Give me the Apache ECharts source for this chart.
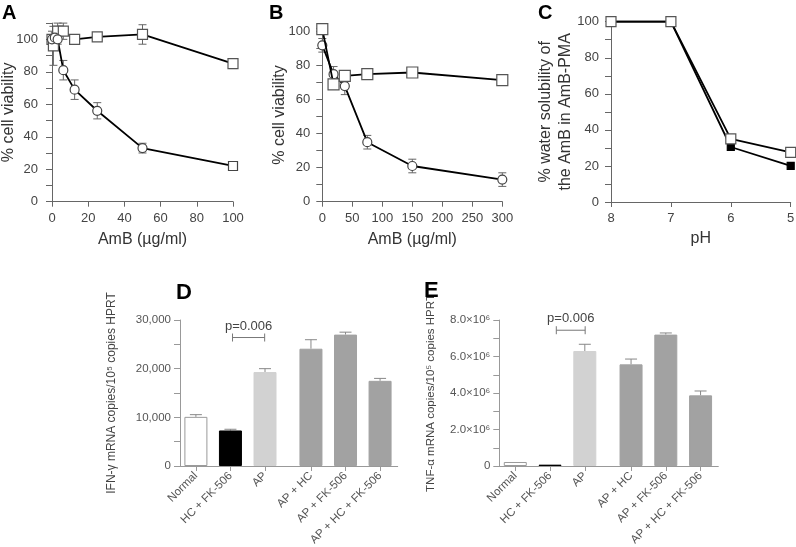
<!DOCTYPE html>
<html><head><meta charset="utf-8">
<script src="https://cdn.jsdelivr.net/npm/echarts@6/dist/echarts.min.js"></script>
<style>html,body{margin:0;padding:0;background:#fff}#c{width:796px;height:547px}</style>
</head><body><div id="c"></div>
<script>
// ---- Panel A ----
const aDoseSq = [0, 0.78, 3.125, 6.25, 12.5, 25, 50, 100];
const aViabSq = [100, 96, 105, 105, 100, 101.5, 103, 85];
const aErrSq  = [2, 12, 5, 5, 1.5, 1, 6, 3];
const aDoseCi = [0, 1.56, 3.125, 6.25, 12.5, 25, 50, 100];
const aViabCi = [100, 101, 100, 81, 69, 56, 33, 22];
const aErrCi  = [5, 3, 3, 6, 6, 5, 3, 1];
// ---- Panel B ----
const bDose   = [0, 18.75, 37.5, 75, 150, 300];
const bViabSq = [101.5, 69, 74, 75, 76, 71.5];
const bErrSq  = [1, 2, 2, 1, 1, 2];
const bViabCi = [92, 75, 68, 35, 21, 13];
const bErrCi  = [4, 4.5, 5, 4, 4, 4];
// ---- Panel C ----
const cPH     = [8, 7, 6, 5];
const cOpen   = [100, 100, 35, 27.5];
const cFilled = [100, 100, 30.5, 20];
// ---- Panels D / E ----
const groups  = ['Normal', 'HC + FK-506', 'AP', 'AP + HC', 'AP + FK-506', 'AP + HC + FK-506'];
const dIFN    = [10100, 7300, 19300, 24100, 27000, 17500];
const dIFNErr = [450, 250, 700, 1850, 500, 500];
const eTNF    = [220000, 73000, 6300000, 5570000, 7200000, 3870000];
const eTNFErr = [0, 0, 370000, 290000, 90000, 240000];
const dBracket = [1.52, 2.45, 26400];
const eBracket = [1.64, 2.47, 7440000];
const pText = 'p=0.006';

const FONT = 'Liberation Sans';
const barColors = ['#ffffff', '#000000', '#d2d2d2', '#a2a2a2', '#a2a2a2', '#a2a2a2'];
const barBorders = ['#9a9a9a', '#000000', '#d2d2d2', '#a2a2a2', '#a2a2a2', '#a2a2a2'];
const groupPos = groups.map((g, i) => i + 0.46 + (i >= 3 ? 0.33 : 0));

function axisBase(color) {
  return {
    axisLine: {show: true, onZero: false, lineStyle: {color: color, width: 1}},
    axisTick: {show: true, length: 6, lineStyle: {color: color, width: 1}},
    splitLine: {show: false},
    nameMoveOverlap: false,
    nameTextStyle: {color: '#333', fontFamily: FONT},
  };
}

function errSeries(xi, xs, ys, es, cap, color, upOnly, z) {
  return {
    type: 'custom', xAxisIndex: xi, yAxisIndex: xi, silent: true, clip: false, z: z || 1,
    data: xs.map((x, i) => [x, ys[i], es[i]]),
    renderItem: function (params, api) {
      const x = api.value(0), y = api.value(1), e = api.value(2);
      if (!e) return null;
      const top = api.coord([x, y + e]);
      const bot = api.coord([x, upOnly ? y : y - e]);
      const st = {stroke: color, lineWidth: 1};
      const ch = [
        {type: 'line', shape: {x1: top[0], y1: top[1], x2: bot[0], y2: bot[1]}, style: st},
        {type: 'line', shape: {x1: top[0] - cap, y1: top[1], x2: top[0] + cap, y2: top[1]}, style: st}
      ];
      if (!upOnly) ch.push({type: 'line', shape: {x1: bot[0] - cap, y1: bot[1], x2: bot[0] + cap, y2: bot[1]}, style: st});
      return {type: 'group', children: ch};
    }
  };
}

function bracketSeries(xi, br) {
  return {
    type: 'custom', xAxisIndex: xi, yAxisIndex: xi, silent: true, clip: false, z: 5,
    data: [br],
    renderItem: function (params, api) {
      const p1 = api.coord([api.value(0), api.value(2)]);
      const p2 = api.coord([api.value(1), api.value(2)]);
      const st = {stroke: '#777', lineWidth: 1};
      return {type: 'group', children: [
        {type: 'line', shape: {x1: p1[0], y1: p1[1], x2: p2[0], y2: p2[1]}, style: st},
        {type: 'line', shape: {x1: p1[0], y1: p1[1] - 4, x2: p1[0], y2: p1[1] + 4}, style: st},
        {type: 'line', shape: {x1: p2[0], y1: p2[1] - 4, x2: p2[0], y2: p2[1] + 4}, style: st},
        {type: 'text', style: {text: pText, x: (p1[0] + p2[0]) / 2, y: p1[1] - 5, align: 'center', verticalAlign: 'bottom',
          fill: '#444', fontSize: 13, fontFamily: FONT}}
      ]};
    }
  };
}

function lineSeries(xi, xs, ys, symbol, size, fill, border, z) {
  return {
    type: 'line', xAxisIndex: xi, yAxisIndex: xi, clip: false, z: z || 3,
    data: xs.map((x, i) => [x, ys[i]]),
    symbol: symbol, symbolSize: size, showAllSymbol: true,
    lineStyle: {color: '#000', width: 1.8},
    itemStyle: {color: fill, borderColor: border, borderWidth: 1.2, opacity: 1},
    emphasis: {disabled: true}
  };
}

function barSeries(xi, vals) {
  return {
    type: 'bar', xAxisIndex: xi, yAxisIndex: xi, barWidth: 23, z: 2,
    data: vals.map((v, i) => ({value: [groupPos[i], v], itemStyle: {color: barColors[i], borderColor: barBorders[i], borderWidth: 1}}))
  };
}

const yLabelStep = (step) => (v) => (Math.abs(v % step) < 1e-9 ? String(v) : '');
const groupLabel = (v) => { let k = 0; groupPos.forEach((p, i) => { if (Math.abs(p - v) < Math.abs(groupPos[k] - v)) k = i; }); return groups[k]; };

const gridBase = {containLabel: false, outerBoundsMode: 'none'};
const grids = [
  Object.assign({left: 52, top: 23.1, width: 181, height: 178.6}, gridBase),
  Object.assign({left: 322.3, top: 28.3, width: 180, height: 173.4}, gridBase),
  Object.assign({left: 611, top: 21.7, width: 179.7, height: 180.3}, gridBase),
  Object.assign({left: 180, top: 320, width: 217.7, height: 146}, gridBase),
  Object.assign({left: 499.3, top: 320, width: 219, height: 146}, gridBase)
];

const lblA = {color: '#444', fontSize: 13, fontFamily: FONT};
const lblD = {color: '#555', fontSize: 11.5, fontFamily: FONT};
const lblX = {color: '#555', fontSize: 11.5, fontFamily: FONT};
const nameA = {fontSize: 16, color: '#333', fontFamily: FONT};

const xAxes = [
  Object.assign(axisBase('#666'), {gridIndex: 0, type: 'value', min: 0, max: 100, interval: 20,
    axisLabel: Object.assign({margin: 10}, lblA), axisTick: {length: 5, lineStyle: {color: '#666'}},
    name: 'AmB (µg/ml)', nameLocation: 'middle', nameGap: 30, nameTextStyle: nameA}),
  Object.assign(axisBase('#666'), {gridIndex: 1, type: 'value', min: 0, max: 300, interval: 50,
    axisLabel: Object.assign({margin: 10}, lblA), axisTick: {length: 5, lineStyle: {color: '#666'}},
    name: 'AmB (µg/ml)', nameLocation: 'middle', nameGap: 30, nameTextStyle: nameA}),
  Object.assign(axisBase('#666'), {gridIndex: 2, type: 'value', min: 5, max: 8, interval: 1, inverse: true,
    axisLabel: Object.assign({margin: 10}, lblA), axisTick: {length: 5, lineStyle: {color: '#666'}},
    name: 'pH', nameLocation: 'middle', nameGap: 29, nameTextStyle: nameA}),
  Object.assign(axisBase('#999'), {gridIndex: 3, type: 'value', min: 0, max: 6.3,
    axisTick: {show: true, length: 5, customValues: groupPos, lineStyle: {color: '#999'}},
    axisLabel: Object.assign({rotate: 45, margin: 8, customValues: groupPos, formatter: groupLabel}, lblX)}),
  Object.assign(axisBase('#999'), {gridIndex: 4, type: 'value', min: 0, max: 6.3,
    axisTick: {show: true, length: 5, customValues: groupPos, lineStyle: {color: '#999'}},
    axisLabel: Object.assign({rotate: 45, margin: 8, customValues: groupPos, formatter: groupLabel}, lblX)})
];

const yAxes = [
  Object.assign(axisBase('#666'), {gridIndex: 0, type: 'value', min: 0, max: 110, interval: 10,
    axisTick: {length: 6, lineStyle: {color: '#666'}},
    axisLabel: Object.assign({margin: 14, formatter: yLabelStep(20)}, lblA),
    name: '% cell viability', nameLocation: 'middle', nameGap: 35, nameTextStyle: nameA}),
  Object.assign(axisBase('#666'), {gridIndex: 1, type: 'value', min: 0, max: 102, interval: 10,
    axisLabel: Object.assign({margin: 12, formatter: yLabelStep(20)}, lblA),
    name: '% cell viability', nameLocation: 'middle', nameGap: 35, nameTextStyle: nameA}),
  Object.assign(axisBase('#666'), {gridIndex: 2, type: 'value', min: 0, max: 100, interval: 10,
    axisLabel: Object.assign({margin: 12, formatter: yLabelStep(20)}, lblA),
    name: '% water solubility of\nthe AmB in AmB-PMA', nameLocation: 'middle', nameGap: 35,
    nameTextStyle: Object.assign({lineHeight: 20}, nameA)}),
  Object.assign(axisBase('#999'), {gridIndex: 3, type: 'value', min: 0, max: 30000, interval: 5000,
    axisLabel: Object.assign({margin: 9, formatter: (v) => (v % 10000 === 0 ? v.toLocaleString('en-US') : '')}, lblD),
    name: 'IFN-γ mRNA copies/10⁵ copies HPRT', nameLocation: 'middle', nameGap: 62,
    nameTextStyle: {fontSize: 12, color: '#444', fontFamily: FONT}}),
  Object.assign(axisBase('#999'), {gridIndex: 4, type: 'value', min: 0, max: 8000000, interval: 1000000,
    axisLabel: Object.assign({margin: 9, formatter: (v) => (v === 0 ? '0' : (v % 2000000 === 0 ? (v / 1e6).toFixed(1) + '×10⁶' : ''))}, lblD),
    name: 'TNF-α mRNA copies/10⁵ copies HPRT', nameLocation: 'middle', nameGap: 62,
    nameTextStyle: {fontSize: 11.5, color: '#444', fontFamily: FONT}})
];

const circA = lineSeries(0, aDoseCi, aViabCi, 'circle', 9, '#fff', '#444', 3);
circA.data[circA.data.length - 1] = {value: [aDoseCi[aDoseCi.length - 1], aViabCi[aViabCi.length - 1]], symbol: 'rect'};

const series = [
  errSeries(0, aDoseSq, aViabSq, aErrSq, 4, '#666', false),
  errSeries(0, aDoseCi, aViabCi, aErrCi, 4, '#666', false),
  lineSeries(0, aDoseSq, aViabSq, 'rect', 10, '#fff', '#555', 3),
  circA,
  errSeries(1, bDose, bViabSq, bErrSq, 4, '#666', false),
  errSeries(1, bDose, bViabCi, bErrCi, 4, '#666', false),
  lineSeries(1, bDose, bViabCi, 'circle', 9, '#fff', '#444', 3),
  lineSeries(1, bDose, bViabSq, 'rect', 11, '#fff', '#555', 4),
  lineSeries(2, cPH, cFilled, 'rect', 7, '#000', '#000', 3),
  lineSeries(2, cPH, cOpen, 'rect', 10, '#fff', '#555', 4),
  barSeries(3, dIFN),
  errSeries(3, groupPos, dIFN, dIFNErr, 6, '#888', true, 1),
  bracketSeries(3, dBracket),
  barSeries(4, eTNF),
  errSeries(4, groupPos, eTNF, eTNFErr, 6, '#888', true, 1),
  bracketSeries(4, eBracket)
];

const titleStyle = {fontSize: 20, fontWeight: 'bold', color: '#000', fontFamily: FONT};
const titleStyleL = {fontSize: 22, fontWeight: 'bold', color: '#000', fontFamily: FONT};
const option = {
  animation: false,
  textStyle: {fontFamily: FONT},
  title: [
    {text: 'A', left: 2, top: 3, textStyle: titleStyle, padding: 0},
    {text: 'B', left: 269, top: 3, textStyle: titleStyle, padding: 0},
    {text: 'C', left: 538, top: 3, textStyle: titleStyle, padding: 0},
    {text: 'D', left: 176, top: 282, textStyle: titleStyleL, padding: 0},
    {text: 'E', left: 424, top: 280, textStyle: titleStyleL, padding: 0}
  ],
  grid: grids,
  xAxis: xAxes,
  yAxis: yAxes,
  series: series
};
const chart = echarts.init(document.getElementById('c'), null, {renderer: 'canvas'});
chart.setOption(option);
</script></body></html>
